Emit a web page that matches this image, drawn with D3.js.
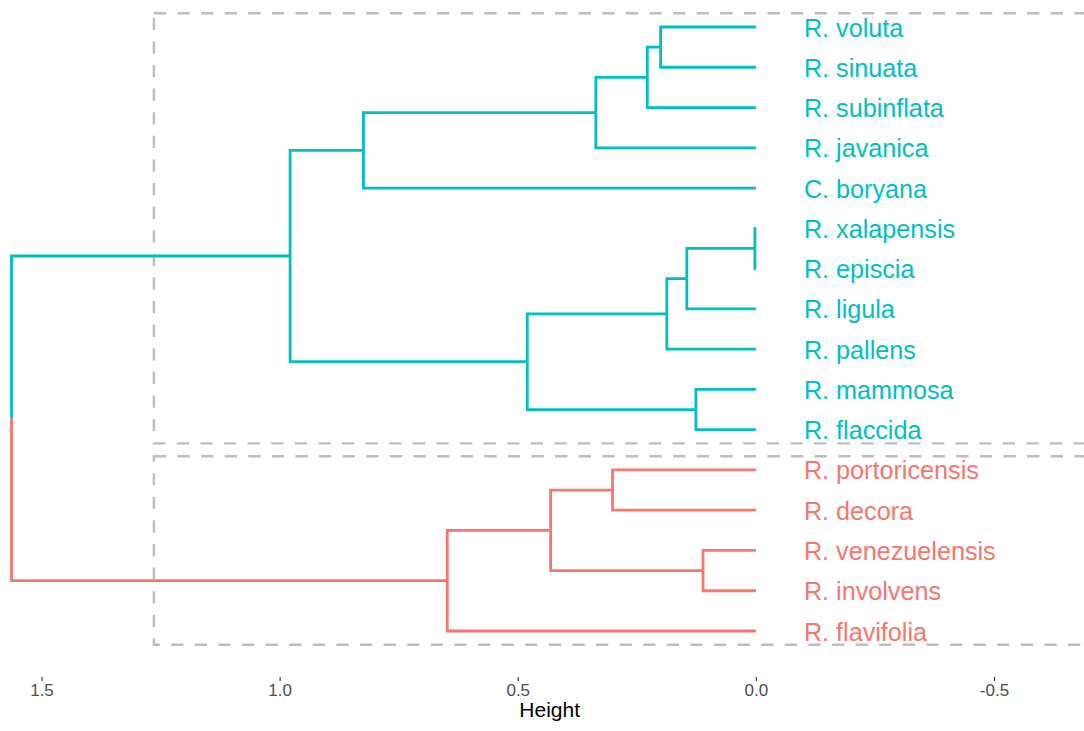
<!DOCTYPE html>
<html>
<head>
<meta charset="utf-8">
<script src="https://cdn.jsdelivr.net/npm/d3@7"></script>
<style>
  html, body { margin: 0; padding: 0; background: #fff; }
  svg { display: block; font-family: "Liberation Sans", Arial, sans-serif; }
</style>
</head>
<body>
<svg id="chart" width="1084" height="731"></svg>
<script>
// ---- data ----
const leafLabels = ["R. voluta", "R. sinuata", "R. subinflata", "R. javanica", "C. boryana",
  "R. xalapensis", "R. episcia", "R. ligula", "R. pallens", "R. mammosa", "R. flaccida",
  "R. portoricensis", "R. decora", "R. venezuelensis", "R. involvens", "R. flavifolia"];
const leafCluster = [1,1,1,1,1,1,1,1,1,1,1,2,2,2,2,2];
// hclust-style merges: negative = leaf (1-based), positive = earlier merge (1-based)
const merges = [[-6,-7],[-14,-15],[-10,-11],[-8,1],[4,-9],[-1,-2],[6,-3],[-12,-13],
  [7,-4],[8,2],[5,3],[10,-16],[9,-5],[13,11],[14,12]];
const mergeHeights = [0.002,0.111,0.126,0.145,0.187,0.200,0.228,0.301,
  0.336,0.431,0.480,0.648,0.824,0.978,1.563];
const tickValues = [1.5, 1.0, 0.5, 0.0, -0.5];
const tickLabels = ["1.5", "1.0", "0.5", "0.0", "-0.5"];
const clusterColors = {1: "#00BFC4", 2: "#F8766D"};
const rectLeftHeight = 1.264;

// ---- scales ----
const svg = d3.select("#chart");
const x = d3.scaleLinear().domain([1.5, -0.5]).range([41.5, 994]);
const y = d3.scaleLinear().domain([0, leafLabels.length - 1]).range([27, 631]);

// ---- build nodes ----
const leaves = leafLabels.map((l, i) => ({label: l, h: 0, pos: i, cluster: leafCluster[i], leaf: true}));
const nodes = [];
function getNode(ref) { return ref < 0 ? leaves[-ref - 1] : nodes[ref - 1]; }
merges.forEach((m, i) => {
  const a = getNode(m[0]), b = getNode(m[1]);
  const node = {h: mergeHeights[i], pos: (a.pos + b.pos) / 2, children: [a, b],
    cluster: a.cluster === b.cluster ? a.cluster : 0};
  nodes.push(node);
});

// ---- rectangles ----
const clusterIds = [1, 2];
const rects = svg.append("g");
clusterIds.forEach(c => {
  const idx = leafCluster.map((v, i) => v === c ? i : -1).filter(i => i >= 0);
  const top = y(d3.min(idx) - 0.34), bot = y(d3.max(idx) + 0.34);
  const left = x(rectLeftHeight), right = x(-0.7);
  rects.append("rect")
    .attr("x", left).attr("y", top)
    .attr("width", right - left).attr("height", bot - top)
    .attr("fill", "none").attr("stroke", "#BEBEBE")
    .attr("stroke-width", 2.4).attr("stroke-dasharray", "12.3,11.3");
});

// ---- branches ----
const g = svg.append("g");
nodes.forEach(n => {
  n.children.forEach(ch => {
    const col = clusterColors[ch.cluster];
    g.append("path")
      .attr("d", `M${x(n.h)},${y(n.pos)}V${y(ch.pos)}H${x(ch.h)}`)
      .attr("fill", "none").attr("stroke", col)
      .attr("stroke-width", 2.8).attr("stroke-linecap", "butt").attr("stroke-linejoin", "miter");
  });
});

// ---- leaf labels ----
svg.append("g").selectAll("text").data(leaves).join("text")
  .attr("x", x(0) + 48).attr("y", d => y(d.pos) + 9.5)
  .attr("fill", d => clusterColors[d.cluster])
  .style("font-size", "25.2px")
  .text(d => d.label);

// ---- axis ----
const axis = d3.axisBottom(x).tickValues(tickValues)
  .tickFormat((d, i) => tickLabels[i]).tickSize(4).tickPadding(3);
const ax = svg.append("g").attr("transform", "translate(0,677)").call(axis);
ax.select(".domain").remove();
ax.selectAll(".tick line").attr("stroke", "#333333").attr("stroke-width", 1.1);
ax.selectAll(".tick text").attr("fill", "#4D4D4D").style("font-size", "17px")
  .style("font-family", "'Liberation Sans', Arial, sans-serif");

svg.append("text").attr("x", 549.7).attr("y", 716.7)
  .attr("text-anchor", "middle").attr("fill", "#000")
  .style("font-size", "21px").text("Height");
</script>
</body>
</html>
